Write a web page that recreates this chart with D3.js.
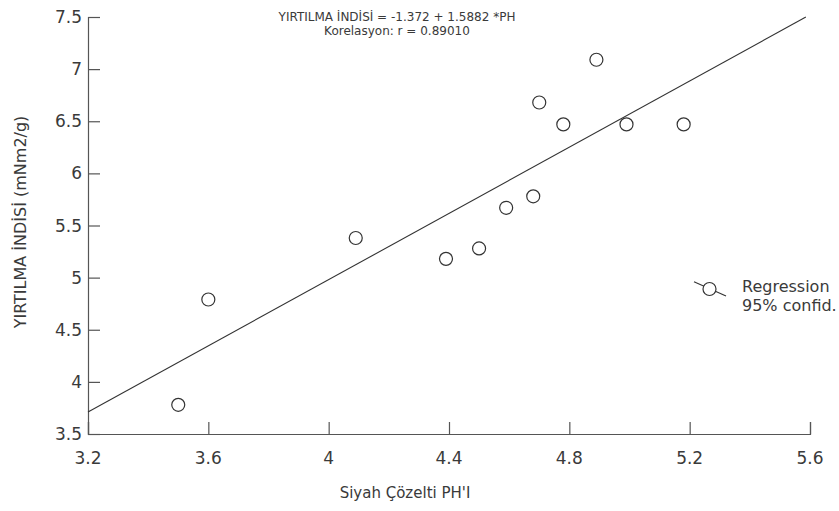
<!DOCTYPE html>
<html>
<head>
<meta charset="utf-8">
<script src="https://cdn.jsdelivr.net/npm/d3@7"></script>
<style>
  body { margin: 0; background: #fff; }
  text { font-family: "DejaVu Sans", sans-serif; fill: #3a3a3a; }
</style>
</head>
<body>
<div id="chart"></div>
<script>
// values
var phValues    = [3.50, 3.60, 4.09, 4.39, 4.50, 4.59, 4.68, 4.70, 4.78, 4.89, 4.99, 5.18];
var indexValues = [3.78, 4.79, 5.38, 5.18, 5.28, 5.67, 5.78, 6.68, 6.47, 7.09, 6.47, 6.47];
var xTicks = [3.2, 3.6, 4, 4.4, 4.8, 5.2, 5.6];
var yTicks = [3.5, 4, 4.5, 5, 5.5, 6, 6.5, 7, 7.5];
var intercept = -1.372;
var slope = 1.5882;
var headerLines = ["YIRTILMA İNDİSİ = -1.372 + 1.5882 *PH", "Korelasyon: r = 0.89010"];
var legendLines = ["Regression", "95% confid."];

var width = 839, height = 511;
var svg = d3.select("#chart").append("svg")
    .attr("width", width)
    .attr("height", height);

var x = d3.scaleLinear().domain([3.2, 5.6]).range([88, 810]);
var y = d3.scaleLinear().domain([3.5, 7.5]).range([434, 17]);

//axes, ticks pointing inward
var xAxis = svg.append("g")
    .attr("transform", "translate(0,434)")
    .call(d3.axisTop(x).tickValues(xTicks).tickSize(12).tickFormat(d3.format("")));
xAxis.selectAll("text").remove();
var yAxis = svg.append("g")
    .attr("transform", "translate(88,0)")
    .call(d3.axisRight(y).tickValues(yTicks).tickSize(12).tickFormat(d3.format("")));
yAxis.selectAll("text").remove();
svg.selectAll(".domain, .tick line").attr("stroke", "#555").attr("stroke-width", 1.2);

svg.selectAll(".xlab")
  .data(xTicks)
  .enter()
  .append("text")
  .attr("class", "xlab")
  .attr("x", d => x(d))
  .attr("y", 464)
  .attr("text-anchor", "middle")
  .style("font-size", "17px")
  .text(d => d);

svg.selectAll(".ylab")
  .data(yTicks)
  .enter()
  .append("text")
  .attr("class", "ylab")
  .attr("x", 82)
  .attr("y", d => y(d))
  .attr("dy", "0.36em")
  .attr("text-anchor", "end")
  .style("font-size", "17px")
  .text(d => d);

// axis titles
svg.append("text")
  .attr("x", 405)
  .attr("y", 498)
  .attr("text-anchor", "middle")
  .style("font-size", "15px")
  .text("Siyah Çözelti PH'I");

svg.append("text")
  .attr("transform", "translate(26,222) rotate(-90)")
  .attr("text-anchor", "middle")
  .style("font-size", "16px")
  .text("YIRTILMA İNDİSİ (mNm2/g)");

// header
svg.selectAll(".head")
  .data(headerLines)
  .enter()
  .append("text")
  .attr("class", "head")
  .attr("x", 397)
  .attr("y", (d, i) => 21 + i * 13.5)
  .attr("text-anchor", "middle")
  .style("font-size", "12px")
  .text(d => d);

// regression line, clipped at the top of the plot
var xEnd = (y.domain()[1] - intercept) / slope;
var fit = [x.domain()[0], xEnd].map(v => [v, intercept + slope * v]);
svg.append("path")
  .datum(fit)
  .attr("fill", "none")
  .attr("stroke", "#333")
  .attr("stroke-width", 1.1)
  .attr("d", d3.line().x(d => x(d[0])).y(d => y(d[1])));

var points = phValues.map((v, i) => ({ph: v, idx: indexValues[i]}));
svg.selectAll(".pt")
  .data(points)
  .enter()
  .append("circle")
  .attr("class", "pt")
  .attr("cx", d => x(d.ph))
  .attr("cy", d => y(d.idx))
  .attr("r", 6.5)
  .attr("fill", "#fff")
  .attr("stroke", "#333")
  .attr("stroke-width", 1.2);

// legend
var lg = svg.append("g");
lg.append("line")
  .attr("x1", 694).attr("y1", 281.7)
  .attr("x2", 726).attr("y2", 296)
  .attr("stroke", "#333").attr("stroke-width", 1.1);
lg.append("circle")
  .attr("cx", 709.5).attr("cy", 289)
  .attr("r", 6.5)
  .attr("fill", "#fff").attr("stroke", "#333").attr("stroke-width", 1.2);
lg.selectAll(".leg")
  .data(legendLines)
  .enter()
  .append("text")
  .attr("class", "leg")
  .attr("x", 742)
  .attr("y", (d, i) => 292 + i * 18.5)
  .style("font-size", "16px")
  .text(d => d);
</script>
</body>
</html>
